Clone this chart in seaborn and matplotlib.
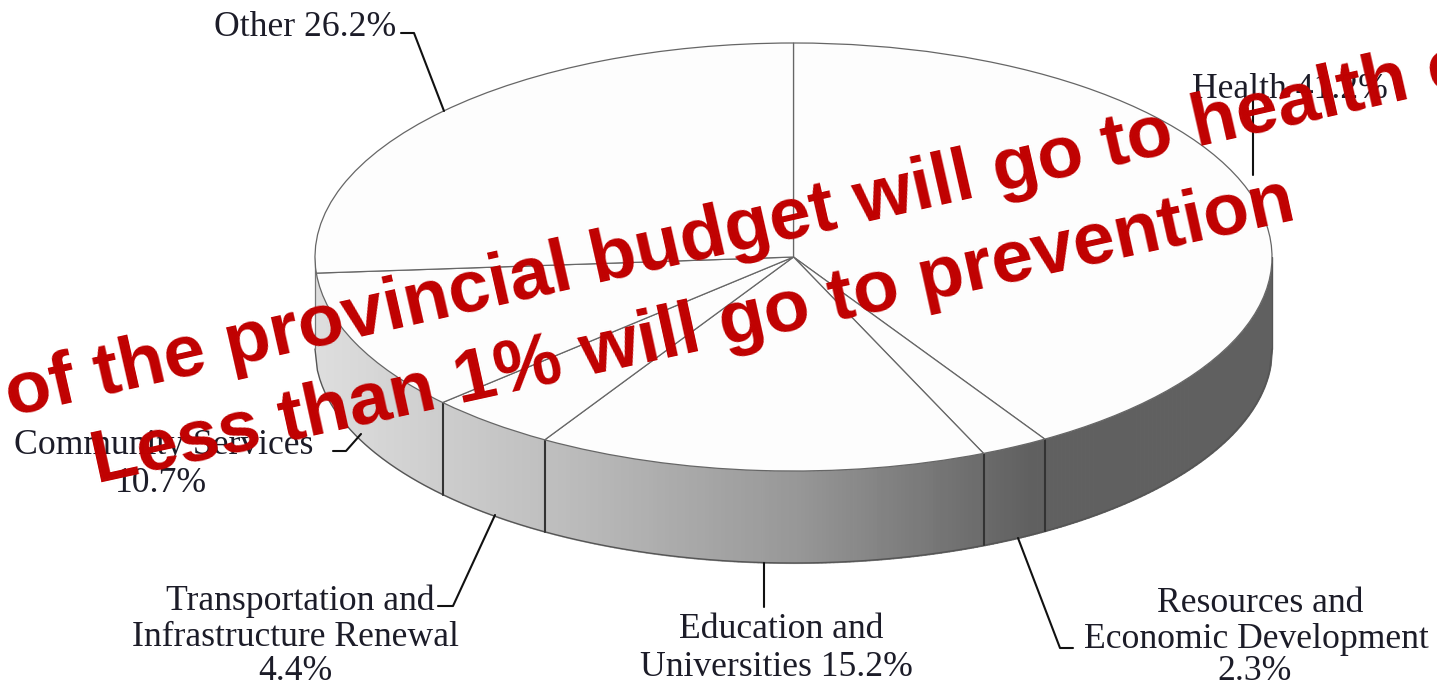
import numpy as np
import matplotlib
matplotlib.use("Agg")
import matplotlib.pyplot as plt
from matplotlib.lines import Line2D
import seaborn as sns

# -------------------------------
# Data
# -------------------------------
categories = ["Health", "Resources and Economic Development", "Education and Universities",
              "Transportation and Infrastructure Renewal", "Community Services", "Other"]
shares = [41.2, 2.3, 15.2, 4.4, 10.7, 26.2]

# -------------------------------
# Figure set up (one axes over the whole picture, flattened pie)
# -------------------------------
sns.set_theme(style="white")
plt.rcParams["font.family"] = ["Liberation Serif", "DejaVu Serif"]

W, H = 1437, 687
CX, CY, RX, RY = 793.5, 257, 478.5, 214
DEPTH = 92 / RY

fig = plt.figure(figsize=(W / 100, H / 100), dpi=100, facecolor="white")
ax = fig.add_axes([0, 0, 1, 1])

ax.pie(shares, startangle=90, counterclock=False, colors=["#FDFDFD"] * len(shares),
       wedgeprops=dict(edgecolor="#666666", linewidth=0.9, zorder=3))
ax.set_aspect("auto")
ax.set_xlim(-CX / RX, (W - CX) / RX)
ax.set_ylim(-(H - CY) / RY, CY / RY)


def px(x, y):
    return x / W, 1 - y / H


# side wall, shaded left to right
n_strips = 240
greys = sns.blend_palette(["#DEDEDE", "#BEBEBE", "#989898", "#606060", "#606060"], n_colors=n_strips)
xs = np.linspace(-1, 1, n_strips + 1)
for i in range(n_strips):
    xx = np.linspace(xs[i], xs[i + 1], 4)
    yy = -np.sqrt(np.clip(1 - xx ** 2, 0, 1))
    ax.fill_between(xx, yy, yy - DEPTH, facecolor=greys[i], edgecolor=greys[i], linewidth=0.8,
                    antialiased=False, zorder=1)

# outline of the wall
xx = np.linspace(-1, 1, 400)
yy = -np.sqrt(np.clip(1 - xx ** 2, 0, 1))
ax.plot(xx, yy - DEPTH, color="#555555", lw=1.0, zorder=2)
ax.plot([-1, -1], [0, -DEPTH], color="#777777", lw=0.9, zorder=2)
ax.plot([1, 1], [0, -DEPTH], color="#555555", lw=0.9, zorder=2)

# slice dividers on the wall
ends = 90 - np.cumsum(shares) * 3.6
for a in ends:
    bx, by = np.cos(np.radians(a)), np.sin(np.radians(a))
    if by < -0.1:
        ax.plot([bx, bx], [by, by - DEPTH], color="#333333", lw=1.5, zorder=2)

# -------------------------------
# Labels and leader lines
# -------------------------------
FS = 25.7
label_specs = [
    ("Other 26.2%", 305, 28, "center"),
    ("Health 41.2%", 1290, 89, "center"),
    ("Community Services", 164, 445, "center"),
    ("10.7%", 161, 483, "center"),
    ("Transportation and", 300, 601, "center"),
    ("Infrastructure Renewal", 295, 638, "center"),
    ("4.4%", 295, 672, "center"),
    ("Education and", 781, 630, "center"),
    ("Universities 15.2%", 776, 667, "center"),
    ("Resources and", 1260, 604, "center"),
    ("Economic Development", 1256, 639, "center"),
    ("2.3%", 1255, 672, "center"),
]
for txt, x, y, ha in label_specs:
    fx, fy = px(x, y)
    fig.text(fx, fy, txt, fontsize=FS, color="#1c1c28", ha=ha, va="center", zorder=5)

leaders = [
    [(401, 33), (414, 33), (444, 111)],
    [(1253, 100), (1253, 175)],
    [(333, 451), (346, 451), (361, 434)],
    [(438, 606), (453, 606), (495, 515)],
    [(764, 563), (764, 607)],
    [(1018, 538), (1060, 648), (1073, 648)],
]
for pts in leaders:
    lx, ly = zip(*[px(*p) for p in pts])
    fig.add_artist(Line2D(lx, ly, color="#111111", lw=1.5, zorder=4))

# -------------------------------
# Red overlay text
# -------------------------------
RED = "#C00000"
for txt, x, y, rot in [("of the provincial budget will go to health c", 737, 231, 12.8),
                       ("Less than 1% will go to prevention", 693, 332, 12.4)]:
    fx, fy = px(x, y)
    fig.text(fx, fy, txt, fontsize=54, color=RED, fontweight="bold", family=["Liberation Sans", "DejaVu Sans"],
             rotation=rot, rotation_mode="anchor", ha="center", va="center", zorder=6)

fig.savefig("out.png", dpi=100)
